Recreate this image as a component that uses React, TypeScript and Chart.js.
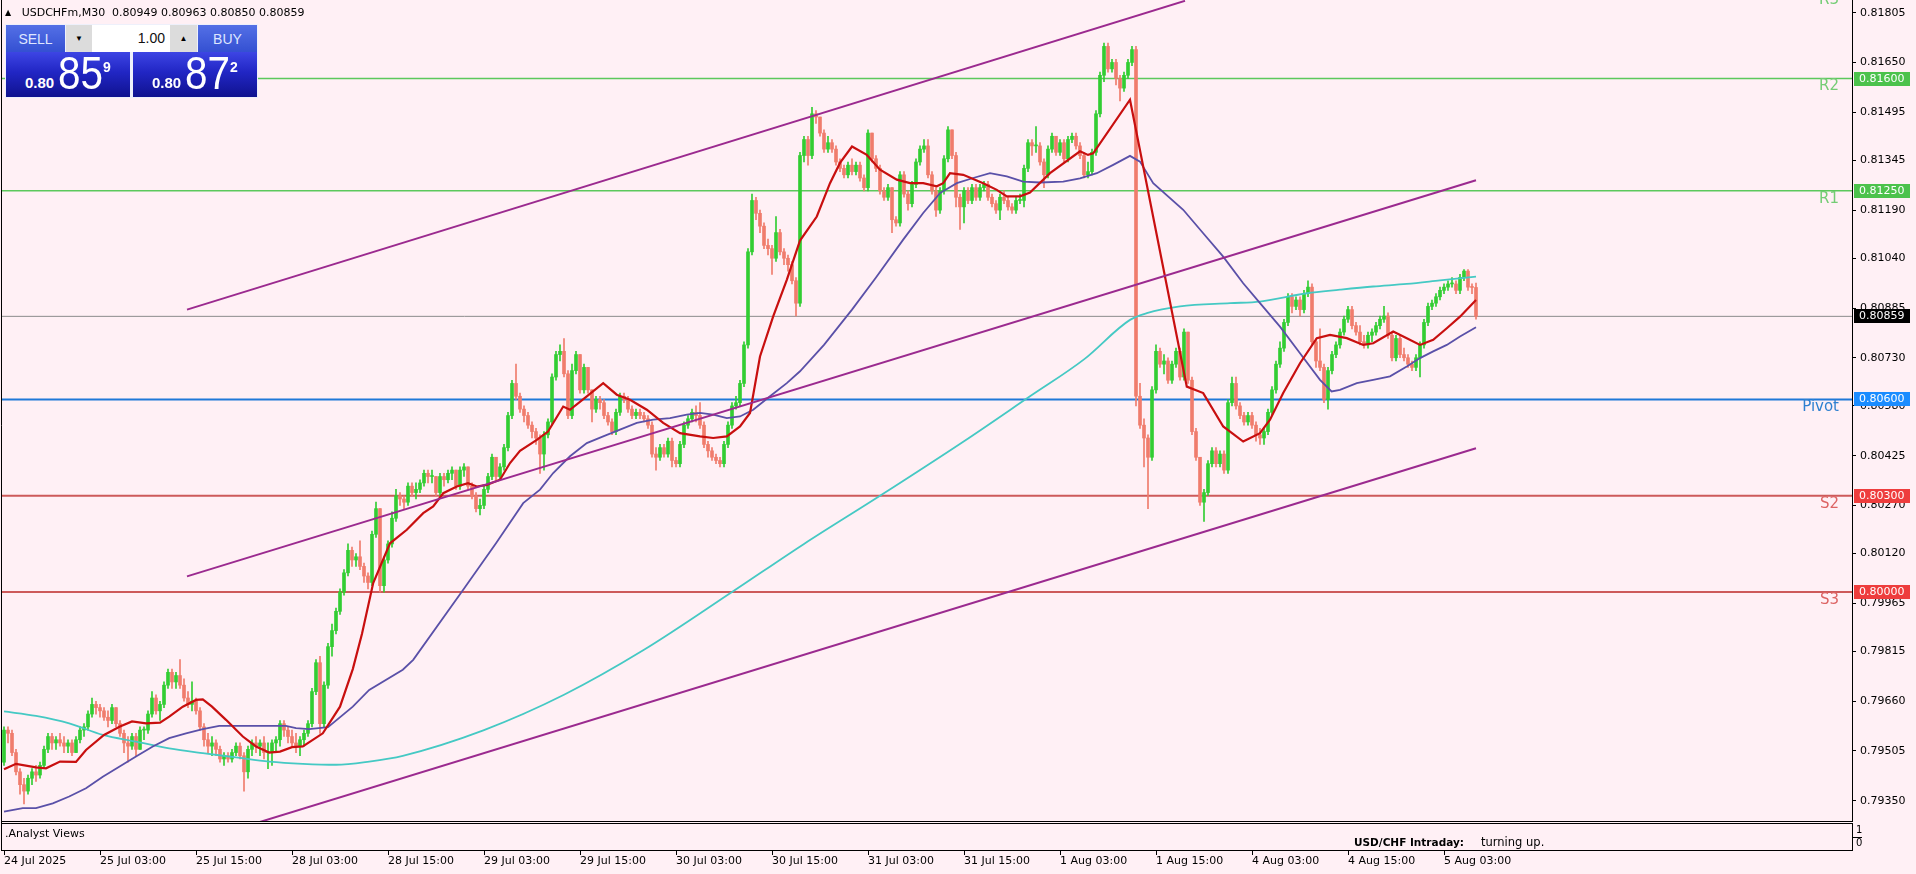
import React, { useEffect, useRef } from 'react';
import { Chart, registerables } from 'chart.js';

Chart.register(...registerables);

// ---------------- data ----------------
const firstOpen = 0.7947;

const closes = [
  0.7957,0.7956,0.7950,0.7944,0.7940,0.7938,0.7942,0.7944,0.7943,0.7946,
  0.7951,0.7955,0.7953,0.7954,0.7953,0.7952,0.7953,0.7950,0.7954,0.7957,
  0.7958,0.7962,0.7965,0.7964,0.7963,0.7961,0.7960,0.7964,0.7959,0.7956,
  0.7953,0.7952,0.7955,0.7951,0.7957,0.7957,0.7962,0.7967,0.7963,0.7965,
  0.7971,0.7975,0.7972,0.7974,0.7971,0.7967,0.7965,0.7966,0.7963,0.7958,
  0.7954,0.7952,0.7953,0.7951,0.7948,0.7949,0.7948,0.7950,0.7952,0.7949,
  0.7944,0.7951,0.7953,0.7952,0.7953,0.7950,0.7950,0.7953,0.7954,0.7959,
  0.7957,0.7955,0.7953,0.7952,0.7954,0.7956,0.7959,0.7969,0.7978,0.7959,
  0.7971,0.7983,0.7988,0.7994,0.8000,0.8006,0.8013,0.8010,0.8011,0.8008,
  0.8005,0.8003,0.8018,0.8026,0.8002,0.8010,0.8015,0.8023,0.8030,0.8029,
  0.8028,0.8033,0.8031,0.8032,0.8034,0.8037,0.8036,0.8036,0.8031,0.8036,
  0.8035,0.8037,0.8038,0.8033,0.8038,0.8039,0.8033,0.8030,0.8026,0.8027,
  0.8032,0.8036,0.8042,0.8036,0.8039,0.8045,0.8055,0.8065,0.8061,0.8057,
  0.8055,0.8052,0.8050,0.8048,0.8043,0.8049,0.8053,0.8067,0.8074,0.8075,
  0.8068,0.8055,0.8069,0.8074,0.8063,0.8070,0.8063,0.8057,0.8060,0.8059,
  0.8055,0.8053,0.8050,0.8056,0.8061,0.8060,0.8057,0.8055,0.8056,0.8055,
  0.8054,0.8052,0.8043,0.8042,0.8045,0.8043,0.8047,0.8041,0.8040,0.8046,
  0.8052,0.8054,0.8056,0.8055,0.8052,0.8046,0.8044,0.8042,0.8041,0.8040,
  0.8046,0.8052,0.8058,0.8059,0.8065,0.8077,0.8106,0.8122,0.8118,0.8114,
  0.8108,0.8107,0.8104,0.8112,0.8106,0.8104,0.8102,0.8097,0.8090,0.8136,
  0.8141,0.8136,0.8149,0.8148,0.8143,0.8138,0.8140,0.8138,0.8134,0.8132,
  0.8130,0.8133,0.8131,0.8133,0.8129,0.8126,0.8143,0.8135,0.8132,0.8125,
  0.8123,0.8126,0.8116,0.8115,0.8130,0.8124,0.8121,0.8127,0.8134,0.8138,
  0.8139,0.8130,0.8125,0.8119,0.8125,0.8135,0.8144,0.8136,0.8123,0.8120,
  0.8125,0.8122,0.8126,0.8123,0.8126,0.8127,0.8123,0.8121,0.8119,0.8123,
  0.8122,0.8120,0.8119,0.8122,0.8122,0.8132,0.8140,0.8139,0.8139,0.8134,
  0.8130,0.8138,0.8142,0.8137,0.8140,0.8135,0.8141,0.8142,0.8139,0.8136,
  0.8130,0.8131,0.8137,0.8149,0.8161,0.8170,0.8163,0.8165,0.8160,0.8157,
  0.8161,0.8165,0.8169,0.8061,0.8052,0.8048,0.8042,0.8063,0.8075,0.8071,
  0.8072,0.8066,0.8071,0.8075,0.8067,0.8081,0.8066,0.8050,0.8042,0.8028,
  0.8031,0.8040,0.8044,0.8040,0.8043,0.8038,0.8059,0.8065,0.8058,0.8055,
  0.8053,0.8055,0.8052,0.8049,0.8048,0.8050,0.8056,0.8063,0.8071,0.8076,
  0.8084,0.8092,0.8089,0.8091,0.8088,0.8093,0.8095,0.8078,0.8072,0.8070,
  0.8060,0.8069,0.8074,0.8077,0.8081,0.8085,0.8088,0.8083,0.8081,0.8078,
  0.8077,0.8080,0.8081,0.8083,0.8085,0.8086,0.8080,0.8073,0.8079,0.8074,
  0.8073,0.8071,0.8070,0.8073,0.8077,0.8084,0.8089,0.8090,0.8092,0.8094,
  0.8095,0.8096,0.8096,0.8094,0.8098,0.8100,0.8095,0.80949,0.80859,
];

const highs = [
  0.7958,0.7958,0.7957,0.7951,0.7945,0.7942,0.7943,0.7945,0.7946,0.7947,
  0.7952,0.7956,0.7956,0.7955,0.7956,0.7955,0.7954,0.7954,0.7955,0.7958,
  0.7959,0.7963,0.7967,0.7966,0.7965,0.7964,0.7963,0.7965,0.7964,0.7960,
  0.7957,0.7955,0.7956,0.7956,0.7958,0.7958,0.7963,0.7969,0.7968,0.7966,
  0.7972,0.7976,0.7976,0.7975,0.7979,0.7973,0.7969,0.7972,0.7967,0.7964,
  0.7959,0.7956,0.7955,0.7954,0.7952,0.7950,0.7950,0.7951,0.7953,0.7953,
  0.7950,0.7952,0.7954,0.7955,0.7954,0.7955,0.7953,0.7954,0.7955,0.7960,
  0.7960,0.7958,0.7957,0.7956,0.7955,0.7957,0.7960,0.7970,0.7979,0.7980,
  0.7972,0.7984,0.7990,0.7995,0.8001,0.8007,0.8015,0.8014,0.8012,0.8016,
  0.8009,0.8006,0.8019,0.8028,0.8026,0.8011,0.8016,0.8025,0.8032,0.8031,
  0.8030,0.8034,0.8034,0.8034,0.8035,0.8038,0.8038,0.8038,0.8036,0.8037,
  0.8037,0.8038,0.8039,0.8038,0.8039,0.8040,0.8039,0.8034,0.8031,0.8029,
  0.8033,0.8037,0.8043,0.8042,0.8040,0.8046,0.8056,0.8066,0.8071,0.8062,
  0.8058,0.8056,0.8053,0.8051,0.8049,0.8050,0.8054,0.8068,0.8075,0.8077,
  0.8079,0.8069,0.8071,0.8075,0.8074,0.8071,0.8070,0.8063,0.8061,0.8061,
  0.8060,0.8056,0.8054,0.8057,0.8062,0.8062,0.8061,0.8058,0.8057,0.8057,
  0.8056,0.8055,0.8053,0.8045,0.8046,0.8046,0.8048,0.8048,0.8042,0.8047,
  0.8053,0.8055,0.8057,0.8058,0.8059,0.8053,0.8047,0.8045,0.8043,0.8042,
  0.8047,0.8053,0.8059,0.8061,0.8066,0.8078,0.8107,0.8124,0.8123,0.8119,
  0.8115,0.8110,0.8108,0.8117,0.8113,0.8107,0.8105,0.8103,0.8098,0.8137,
  0.8142,0.8142,0.8151,0.8150,0.8148,0.8144,0.8142,0.8141,0.8139,0.8135,
  0.8133,0.8134,0.8135,0.8134,0.8134,0.8130,0.8144,0.8143,0.8136,0.8133,
  0.8126,0.8127,0.8126,0.8117,0.8131,0.8131,0.8125,0.8128,0.8135,0.8139,
  0.8141,0.8141,0.8131,0.8126,0.8126,0.8136,0.8145,0.8144,0.8137,0.8124,
  0.8126,0.8126,0.8127,0.8127,0.8127,0.8128,0.8128,0.8124,0.8122,0.8124,
  0.8125,0.8123,0.8121,0.8123,0.8124,0.8133,0.8141,0.8141,0.8145,0.8140,
  0.8135,0.8139,0.8143,0.8142,0.8141,0.8141,0.8142,0.8143,0.8143,0.8140,
  0.8137,0.8134,0.8138,0.8150,0.8162,0.8171,0.8171,0.8166,0.8166,0.8161,
  0.8162,0.8166,0.8170,0.8170,0.8065,0.8054,0.8049,0.8064,0.8077,0.8076,
  0.8074,0.8073,0.8072,0.8076,0.8076,0.8082,0.8081,0.8067,0.8051,0.8042,
  0.8032,0.8041,0.8045,0.8045,0.8044,0.8044,0.8060,0.8067,0.8067,0.8059,
  0.8056,0.8056,0.8056,0.8053,0.8051,0.8051,0.8057,0.8064,0.8072,0.8078,
  0.8085,0.8093,0.8093,0.8092,0.8092,0.8094,0.8097,0.8096,0.8079,0.8082,
  0.8071,0.8070,0.8075,0.8078,0.8082,0.8086,0.8089,0.8089,0.8084,0.8083,
  0.8080,0.8081,0.8082,0.8084,0.8086,0.8089,0.8087,0.8081,0.8080,0.8080,
  0.8076,0.8074,0.8072,0.8074,0.8078,0.8085,0.8090,0.8091,0.8093,0.8095,
  0.8096,0.8097,0.8098,0.8097,0.8099,0.81005,0.81005,0.8096,0.80963,
];

const lows = [
  0.7946,0.7953,0.7949,0.7943,0.7937,0.7934,0.7937,0.7940,0.7941,0.7942,
  0.7945,0.7950,0.7951,0.7951,0.7952,0.7950,0.7950,0.7949,0.7950,0.7953,
  0.7955,0.7957,0.7961,0.7962,0.7961,0.7960,0.7958,0.7959,0.7958,0.7955,
  0.7950,0.7947,0.7951,0.7949,0.7951,0.7954,0.7956,0.7961,0.7962,0.7960,
  0.7964,0.7970,0.7970,0.7970,0.7970,0.7966,0.7964,0.7963,0.7962,0.7957,
  0.7952,0.7950,0.7949,0.7949,0.7947,0.7946,0.7947,0.7947,0.7949,0.7948,
  0.7938,0.7942,0.7949,0.7950,0.7949,0.7948,0.7945,0.7946,0.7950,0.7952,
  0.7955,0.7953,0.7952,0.7950,0.7949,0.7952,0.7955,0.7958,0.7968,0.7956,
  0.7958,0.7970,0.7980,0.7987,0.7993,0.7999,0.8005,0.8008,0.8008,0.8007,
  0.8003,0.8001,0.8002,0.8017,0.8000,0.8000,0.8009,0.8014,0.8022,0.8027,
  0.8026,0.8027,0.8030,0.8029,0.8031,0.8033,0.8034,0.8034,0.8030,0.8030,
  0.8033,0.8034,0.8035,0.8032,0.8032,0.8036,0.8032,0.8029,0.8025,0.8024,
  0.8026,0.8031,0.8035,0.8035,0.8035,0.8038,0.8044,0.8054,0.8060,0.8056,
  0.8053,0.8051,0.8048,0.8046,0.8037,0.8038,0.8048,0.8052,0.8066,0.8072,
  0.8067,0.8054,0.8054,0.8068,0.8062,0.8062,0.8062,0.8053,0.8056,0.8057,
  0.8054,0.8052,0.8049,0.8049,0.8055,0.8059,0.8056,0.8054,0.8054,0.8054,
  0.8053,0.8051,0.8042,0.8038,0.8041,0.8042,0.8042,0.8039,0.8039,0.8039,
  0.8045,0.8051,0.8053,0.8053,0.8051,0.8045,0.8042,0.8041,0.8040,0.8039,
  0.8039,0.8045,0.8051,0.8057,0.8058,0.8064,0.8076,0.8105,0.8116,0.8112,
  0.8107,0.8105,0.8099,0.8103,0.8105,0.8102,0.8100,0.8096,0.8086,0.8089,
  0.8134,0.8133,0.8135,0.8146,0.8142,0.8137,0.8137,0.8137,0.8133,0.8131,
  0.8129,0.8129,0.8130,0.8130,0.8128,0.8125,0.8125,0.8134,0.8131,0.8124,
  0.8122,0.8122,0.8112,0.8114,0.8114,0.8123,0.8119,0.8120,0.8126,0.8133,
  0.8137,0.8129,0.8124,0.8117,0.8118,0.8124,0.8134,0.8135,0.8120,0.8113,
  0.8115,0.8121,0.8121,0.8122,0.8122,0.8125,0.8122,0.8120,0.8118,0.8116,
  0.8121,0.8119,0.8118,0.8118,0.8121,0.8120,0.8131,0.8136,0.8137,0.8133,
  0.8126,0.8129,0.8137,0.8136,0.8136,0.8134,0.8134,0.8140,0.8138,0.8135,
  0.8129,0.8129,0.8130,0.8136,0.8148,0.8159,0.8162,0.8162,0.8158,0.8153,
  0.8156,0.8160,0.8164,0.8058,0.8051,0.8039,0.8026,0.8041,0.8062,0.8070,
  0.8068,0.8065,0.8065,0.8070,0.8066,0.8066,0.8065,0.8049,0.8041,0.8027,
  0.8022,0.8030,0.8039,0.8039,0.8039,0.8037,0.8037,0.8058,0.8057,0.8054,
  0.8052,0.8052,0.8051,0.8047,0.8046,0.8046,0.8049,0.8055,0.8062,0.8070,
  0.8075,0.8083,0.8087,0.8088,0.8086,0.8087,0.8092,0.8077,0.8070,0.8069,
  0.8059,0.8057,0.8068,0.8073,0.8076,0.8080,0.8084,0.8082,0.8080,0.8077,
  0.8076,0.8076,0.8078,0.8080,0.8082,0.8084,0.8079,0.8072,0.8072,0.8073,
  0.8072,0.8070,0.8069,0.8069,0.8067,0.8076,0.8083,0.8088,0.8089,0.8091,
  0.8093,0.8094,0.8095,0.8093,0.8093,0.8097,0.8094,0.8093,0.8085,
];

// moving averages: [bar index, price]
const maFast = [
  [0,0.79448],[3,0.79465],[8,0.79454],[10.5,0.79451],[14,0.79472],[18,0.79471],[20.5,0.79508],[25,0.79555],
  [29,0.79581],[32,0.79597],[35.5,0.79591],[39,0.79593],[41.3,0.79612],[44.7,0.79643],[48,0.79664],[49.7,0.79666],
  [52,0.79643],[55.5,0.79602],[59.7,0.7955],[63,0.79519],[66.3,0.795],[69,0.79503],[72,0.79517],[74.7,0.79519],
  [79.7,0.7956],[84,0.79643],[87.2,0.7976],[89.5,0.7987],[92.3,0.80028],[96.5,0.80152],[100.7,0.80194],[104.8,0.80246],
  [107.3,0.80267],[109.8,0.80308],[113.2,0.80329],[116,0.80339],[118.2,0.80329],[120.7,0.80334],[124,0.8035],[126.5,0.80402],
  [129,0.8044],[133.2,0.80474],[136,0.805],[139.8,0.80578],[141.5,0.80568],[145.7,0.8061],[149.8,0.80651],[153.2,0.80615],
  [156.5,0.80599],[160.7,0.80568],[164.8,0.80527],[169,0.80495],[174,0.80485],[177.3,0.8048],[180.7,0.80485],[184,0.80516],
  [186.5,0.80558],[189,0.80734],[192.3,0.80859],[195.7,0.80973],[199,0.81095],[203.2,0.8117],[206.5,0.81274],[209,0.81337],
  [212,0.81388],[215.7,0.81362],[219,0.81316],[223.2,0.81285],[226.5,0.81274],[229.8,0.81274],[233.2,0.81264],[234.8,0.81274],
  [236.5,0.81305],[239.8,0.813],[244.8,0.81274],[248.2,0.81253],[250.7,0.81233],[254,0.81233],[256.5,0.81245],[261.5,0.81305],
  [269,0.81373],[271,0.81362],[272.3,0.81367],[281.5,0.81534],[295.7,0.8064],[299.8,0.8062],[304.8,0.80516],[309.8,0.80469],
  [314,0.80495],[316.5,0.80537],[319.8,0.8062],[324,0.80713],[328.2,0.80791],[331.5,0.80801],[335.7,0.80791],[339.8,0.8077],
  [342.3,0.80775],[347.3,0.80812],[350.7,0.80791],[354,0.8077],[357.3,0.80786],[360.7,0.80822],[364,0.80858],[368,0.8091],
];

const maMid = [
  [0,0.79316],[4.7,0.79327],[8,0.79327],[12.2,0.79342],[16.3,0.79363],[20.5,0.79389],[24.7,0.79425],[28.8,0.79456],
  [33,0.79488],[37.2,0.79519],[41.3,0.79545],[45.5,0.7956],[49.7,0.79573],[53.8,0.79583],[58,0.79583],[62.2,0.79583],
  [66.3,0.79583],[70.5,0.79583],[73,0.79576],[76.3,0.79573],[81,0.79579],[87.2,0.79643],[91.3,0.79695],[99.7,0.79758],
  [102.3,0.79789],[114.8,0.80007],[123,0.80152],[129.8,0.80277],[134,0.80319],[137.3,0.80371],[141.5,0.80423],[145.7,0.80464],
  [149.8,0.80485],[154,0.80506],[158.2,0.80527],[162.3,0.80537],[166.5,0.80542],[170.7,0.80553],[174,0.80558],[177.3,0.80553],
  [180.7,0.80542],[184,0.80547],[187.3,0.80568],[191.5,0.8061],[195.7,0.80651],[199,0.80688],[205,0.8077],[212,0.8088],
  [218,0.8098],[224.8,0.81098],[229.8,0.81181],[234,0.81243],[238.2,0.81274],[242.3,0.8129],[246.5,0.81305],[250.7,0.81295],
  [254.8,0.81279],[259,0.81276],[264.8,0.81279],[269,0.81289],[273.2,0.81305],[277.3,0.81331],[281.5,0.81359],[284,0.81341],
  [287.3,0.81274],[294.8,0.81191],[299.8,0.81118],[304.8,0.81045],[309.8,0.80962],[314,0.809],[319,0.80827],[324,0.80744],
  [329,0.80661],[331.9,0.80625],[334,0.8063],[338.2,0.80651],[342.3,0.80661],[346.5,0.80672],[350.7,0.80703],[354,0.80729],
  [357.3,0.8075],[360.7,0.8077],[364,0.80796],[368,0.80825],
];

const maSlow = [
  [0,0.79628],[8,0.79614],[16.3,0.79591],[24.7,0.79555],[33,0.79534],[41.3,0.79513],[49.7,0.79498],[58,0.79485],
  [66.3,0.79472],[74.7,0.79465],[83,0.79462],[91.3,0.79472],[99.7,0.7949],[120,0.7957],[140,0.7968],[160,0.7982],
  [182,0.8000],[200,0.8015],[219,0.8030],[240,0.8047],[256.5,0.8061],[270,0.80725],[281.5,0.80848],[285.7,0.80869],
  [294,0.8089],[306.5,0.809],[314,0.80905],[325.7,0.80931],[334,0.80942],[342.3,0.80952],[350.7,0.8096],[359,0.80971],
  [368,0.80983],
];

const channelUpper = [[45.75,0.8088],[295.25,0.81842]];
const channelMiddle = [[45.75,0.80049],[368,0.81283]];
const channelLower = [[45.75,0.79214],[368,0.80448]];

const levelNames = ['R3','R2','R1','Pivot','S2','S3'];
const levelValues = [0.8187,0.8160,0.8125,0.8060,0.8030,0.8000];
const currentPrice = 0.80859;

const timeTickBars = [0,24,48,72,96,120,144,168,192,216,240,264,288,312,336,360];
const timeTickLabels = ['24 Jul 2025','25 Jul 03:00','25 Jul 15:00','28 Jul 03:00','28 Jul 15:00','29 Jul 03:00','29 Jul 15:00','30 Jul 03:00','30 Jul 15:00','31 Jul 03:00','31 Jul 15:00','1 Aug 03:00','1 Aug 15:00','4 Aug 03:00','4 Aug 15:00','5 Aug 03:00'];
const priceTicks = [0.81805,0.81650,0.81495,0.81345,0.81190,0.81040,0.80885,0.80730,0.80580,0.80425,0.80270,0.80120,0.79965,0.79815,0.79660,0.79505,0.79350];

// ---------------- styling ----------------
const W = 1916, H = 874;
const BG = '#fff0f5';
const UP = '#32cd32';
const DOWN = '#f07c6c';
const X_MIN = -0.5, X_MAX = 462;
const Y_MIN = 0.792868, Y_MAX = 0.8184457;
const AX_FONT = '"DejaVu Sans", Verdana, sans-serif';

const levelStyle: Record<string, { line: string; label: string; box: string; width: number }> = {
  R3: { line: '#5cc85c', label: '#74cc74', box: '#4cc24c', width: 1.5 },
  R2: { line: '#5cc85c', label: '#74cc74', box: '#4cc24c', width: 1.5 },
  R1: { line: '#5cc85c', label: '#74cc74', box: '#4cc24c', width: 1.5 },
  Pivot: { line: '#1f78d8', label: '#2f80d0', box: '#1a8cff', width: 2 },
  S2: { line: '#cd5a5a', label: '#dd6464', box: '#ee3d3d', width: 2 },
  S3: { line: '#cd5a5a', label: '#dd6464', box: '#ee3d3d', width: 2 },
};

const pts = (arr: number[][]) => arr.map(([x, y]) => ({ x, y }));

const overlayPlugin = {
  id: 'mtOverlay',
  beforeDraw(chart: any) {
    const ctx = chart.ctx;
    ctx.save();
    ctx.fillStyle = BG;
    ctx.fillRect(0, 0, chart.width, chart.height);
    ctx.restore();
  },
  afterDraw(chart: any) {
    const ctx = chart.ctx;
    const ca = chart.chartArea;
    const ys = chart.scales.y;
    const xs = chart.scales.x;
    ctx.save();
    ctx.strokeStyle = '#000';
    ctx.lineWidth = 1;
    // left border
    ctx.beginPath();
    ctx.moveTo(1.5, 0);
    ctx.lineTo(1.5, 850.5);
    ctx.stroke();
    // main window bottom
    ctx.beginPath();
    ctx.moveTo(1, ca.bottom + 0.5);
    ctx.lineTo(ca.right + 1, ca.bottom + 0.5);
    ctx.stroke();
    // sub window
    ctx.strokeRect(1.5, 823.5, ca.right - 1, 27);
    // x tick marks
    timeTickBars.forEach((b) => {
      const px = Math.round(xs.getPixelForValue(b)) + 0.5;
      ctx.beginPath();
      ctx.moveTo(px, 851);
      ctx.lineTo(px, 855);
      ctx.stroke();
    });
    // sub window right scale
    ctx.fillStyle = '#000';
    ctx.font = '10px ' + AX_FONT;
    ctx.textBaseline = 'middle';
    ctx.textAlign = 'left';
    ctx.fillText('1', 1856, 830);
    ctx.fillText('0', 1856, 843);
    ctx.beginPath();
    ctx.moveTo(ca.right, 837.5);
    ctx.lineTo(ca.right + 10, 837.5);
    ctx.stroke();
    // sub window texts
    ctx.font = '11px ' + AX_FONT;
    ctx.fillText('.Analyst Views', 5, 834);
    ctx.font = 'bold 10.5px ' + AX_FONT;
    ctx.fillText('USD/CHF Intraday:', 1354, 843);
    ctx.font = '11.5px ' + AX_FONT;
    ctx.fillText('turning up.', 1481, 843);

    // level labels
    ctx.font = '15px ' + AX_FONT;
    ctx.textAlign = 'right';
    levelNames.forEach((name, i) => {
      const yy = ys.getPixelForValue(levelValues[i]);
      ctx.fillStyle = levelStyle[name].label;
      ctx.fillText(name, 1839, yy + 8);
    });

    // price boxes
    ctx.font = '11px ' + AX_FONT;
    ctx.textAlign = 'left';
    const boxes: { v: number; c: string }[] = [];
    levelNames.forEach((name, i) => {
      if (name !== 'R3') boxes.push({ v: levelValues[i], c: levelStyle[name].box });
    });
    boxes.push({ v: currentPrice, c: '#000000' });
    boxes.forEach((b) => {
      const yy = Math.round(ys.getPixelForValue(b.v));
      ctx.fillStyle = b.c;
      ctx.fillRect(1854, yy - 7, 56, 14);
      ctx.fillStyle = '#ffffff';
      ctx.fillText(b.v.toFixed(5), 1859, yy + 0.5);
    });
    ctx.restore();
  },
};

export default function App() {
  const canvasRef = useRef<HTMLCanvasElement | null>(null);

  useEffect(() => {
    if (!canvasRef.current) return;
    const bodies: any[] = [];
    const wicks: any[] = [];
    const colors: string[] = [];
    for (let i = 0; i < closes.length; i++) {
      const o = i === 0 ? firstOpen : closes[i - 1];
      const c = closes[i];
      bodies.push({ x: i, y: [o, c] });
      wicks.push({ x: i, y: [lows[i], highs[i]] });
      colors.push(c >= o ? UP : DOWN);
    }

    const levelSets = levelNames.map((name, i) => ({
      type: 'line',
      data: [{ x: X_MIN, y: levelValues[i] }, { x: X_MAX, y: levelValues[i] }],
      borderColor: levelStyle[name].line,
      borderWidth: levelStyle[name].width,
      pointRadius: 0,
      fill: false,
      order: 9,
    }));

    const chanSet = (arr: number[][]) => ({
      type: 'line',
      data: pts(arr),
      borderColor: '#9b2a8f',
      borderWidth: 2,
      pointRadius: 0,
      fill: false,
      tension: 0,
      order: 2,
    });

    const chart = new Chart(canvasRef.current, {
      type: 'bar',
      data: {
        datasets: [
          {
            type: 'line',
            data: [{ x: X_MIN, y: currentPrice }, { x: X_MAX, y: currentPrice }],
            borderColor: '#8c8c8c',
            borderWidth: 1,
            pointRadius: 0,
            fill: false,
            order: 10,
          } as any,
          ...(levelSets as any[]),
          {
            type: 'bar',
            data: wicks,
            backgroundColor: colors,
            barThickness: 1,
            grouped: false,
            order: 8,
          } as any,
          {
            type: 'bar',
            data: bodies,
            backgroundColor: colors,
            barThickness: 3,
            minBarLength: 1,
            grouped: false,
            order: 7,
          } as any,
          {
            type: 'line',
            data: pts(maSlow),
            borderColor: '#45c9c4',
            borderWidth: 1.8,
            pointRadius: 0,
            fill: false,
            cubicInterpolationMode: 'monotone',
            order: 6,
          } as any,
          {
            type: 'line',
            data: pts(maMid),
            borderColor: '#5a50a8',
            borderWidth: 1.8,
            pointRadius: 0,
            fill: false,
            tension: 0,
            order: 5,
          } as any,
          {
            type: 'line',
            data: pts(maFast),
            borderColor: '#c80f0f',
            borderWidth: 2.2,
            pointRadius: 0,
            fill: false,
            tension: 0,
            order: 4,
          } as any,
          chanSet(channelUpper) as any,
          chanSet(channelMiddle) as any,
          chanSet(channelLower) as any,
        ],
      },
      options: {
        responsive: false,
        animation: false,
        events: [],
        layout: { padding: { left: 2, right: 0, top: 0, bottom: 0 } },
        plugins: { legend: { display: false }, tooltip: { enabled: false } },
        scales: {
          x: {
            type: 'linear',
            position: 'bottom',
            min: X_MIN,
            max: X_MAX,
            offset: false,
            grid: { display: false, drawTicks: false },
            border: { display: false },
            ticks: {
              autoSkip: false,
              maxRotation: 0,
              minRotation: 0,
              align: 'start',
              padding: 34,
              color: '#000',
              font: { family: AX_FONT, size: 11 },
              callback: (v: any) => {
                const idx = timeTickBars.indexOf(Number(v));
                return idx >= 0 ? timeTickLabels[idx] : '';
              },
            },
            afterBuildTicks: (s: any) => {
              s.ticks = timeTickBars.map((v) => ({ value: v }));
            },
            afterFit: (s: any) => {
              s.height = 53;
              s.paddingLeft = 0;
              s.paddingRight = 0;
              s.paddingTop = 0;
              s.paddingBottom = 0;
            },
          } as any,
          y: {
            type: 'linear',
            position: 'right',
            min: Y_MIN,
            max: Y_MAX,
            grid: { display: true, drawOnChartArea: false, drawTicks: true, tickLength: 4, color: '#000', lineWidth: 1 },
            border: { display: true, color: '#000', width: 1 },
            ticks: {
              autoSkip: false,
              padding: 4,
              color: '#000',
              font: { family: AX_FONT, size: 11 },
              callback: (v: any) => Number(v).toFixed(5),
            },
            afterBuildTicks: (s: any) => {
              s.ticks = priceTicks.map((v) => ({ value: v }));
            },
            afterFit: (s: any) => {
              s.width = 64;
              s.paddingLeft = 0;
              s.paddingRight = 0;
              s.paddingTop = 0;
              s.paddingBottom = 0;
            },
          } as any,
        },
      } as any,
      plugins: [overlayPlugin as any],
    });
    return () => chart.destroy();
  }, []);

  const panelFont = '"Liberation Sans", Arial, sans-serif';
  const priceBox = (left: number, small: string, big: string, sup: string) => (
    <div
      style={{
        position: 'absolute', left, top: 52, width: 124, height: 45,
        background: 'linear-gradient(#3d45e4 0%, #2126c4 45%, #10128f 100%)',
        color: '#fff', fontFamily: panelFont,
      }}
    >
      <span style={{ position: 'absolute', left: 19, top: 23, fontSize: 15, lineHeight: '15px', fontWeight: 'bold' }}>{small}</span>
      <span style={{ position: 'absolute', left: 52, top: -3, fontSize: 47, lineHeight: '47px', transform: 'scaleX(0.86)', transformOrigin: 'left top' }}>{big}</span>
      <span style={{ position: 'absolute', left: 97, top: 8, fontSize: 14, lineHeight: '14px', fontWeight: 'bold' }}>{sup}</span>
    </div>
  );
  const btn = (left: number, width: number, text: string) => (
    <div
      style={{
        position: 'absolute', left, top: 25, width, height: 27,
        background: 'linear-gradient(#5470e6, #3450d2)',
        color: '#dfe6ff', fontFamily: panelFont, fontSize: 14,
        display: 'flex', alignItems: 'center', justifyContent: 'center',
      }}
    >
      {text}
    </div>
  );

  return (
    <div style={{ position: 'fixed', left: 0, top: 0, width: W, height: H, background: BG, overflow: 'hidden' }}>
      <canvas ref={canvasRef} width={W} height={H} style={{ position: 'absolute', left: 0, top: 0, display: 'block' }} />
      <div
        style={{
          position: 'absolute', left: 5, top: 6, fontFamily: AX_FONT, fontSize: 11, lineHeight: '13px',
          color: '#000', whiteSpace: 'pre',
        }}
      >
        <span style={{ fontSize: 8, verticalAlign: 'top' }}>▲</span>
        {'   USDCHFm,M30  0.80949 0.80963 0.80850 0.80859'}
      </div>
      <div style={{ position: 'absolute', left: 5, top: 24, width: 253, height: 74, background: '#eef0fb' }} />
      {btn(6, 59, 'SELL')}
      <div style={{ position: 'absolute', left: 66, top: 25, width: 131, height: 27, background: '#ffffff', fontFamily: panelFont }}>
        <div style={{ position: 'absolute', left: 0, top: 0, width: 26, height: 27, background: '#dcdcdc', fontSize: 8, display: 'flex', alignItems: 'center', justifyContent: 'center' }}>▼</div>
        <div style={{ position: 'absolute', right: 32, top: 5, fontSize: 14, color: '#111' }}>1.00</div>
        <div style={{ position: 'absolute', right: 0, top: 0, width: 27, height: 27, background: '#dcdcdc', fontSize: 8, display: 'flex', alignItems: 'center', justifyContent: 'center' }}>▲</div>
      </div>
      {btn(198, 59, 'BUY')}
      {priceBox(6, '0.80', '85', '9')}
      {priceBox(133, '0.80', '87', '2')}
    </div>
  );
}
